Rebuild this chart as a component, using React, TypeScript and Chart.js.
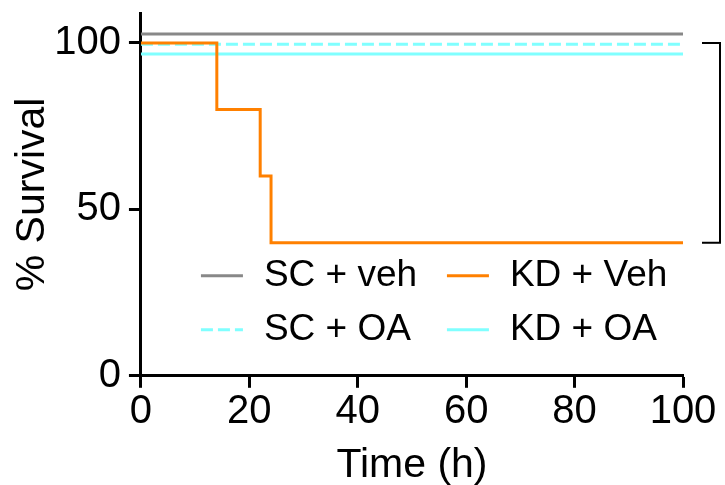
import React, { useEffect, useRef } from "react";
import { Chart, registerables } from "chart.js";

Chart.register(...registerables);

const seriesLabels = ["SC + veh", "KD + Veh", "SC + OA", "KD + OA"];
const scVehX = [0, 100];
const scVehY = [102.7, 102.7];
const kdVehX = [0, 14, 22, 24, 100];
const kdVehY = [100, 80, 60, 40, 40];
const scOaX = [0, 100];
const scOaY = [99.6, 99.6];
const kdOaX = [0, 100];
const kdOaY = [96.7, 96.7];
const xTicks = [0, 20, 40, 60, 80, 100];
const yTicks = [0, 50, 100];

const colors = ["#888888", "#FF8000", "#80FFFF", "#80FFFF"];
const FONT = "'Liberation Sans', Arial, Helvetica, sans-serif";

function pts(xs: number[], ys: number[]) {
  return xs.map((x, i) => ({ x, y: ys[i] }));
}

export default function App() {
  const ref = useRef<HTMLCanvasElement | null>(null);
  useEffect(() => {
    document.body.style.margin = "0";
    const ctx = ref.current!.getContext("2d")!;
    const legendPlugin = {
      id: "customLegend",
      afterDatasetsDraw(chart: any) {
        const { ctx, chartArea } = chart;
        const entries = [
          { i: 0, col: 0, row: 0 },
          { i: 1, col: 1, row: 0 },
          { i: 2, col: 0, row: 1 },
          { i: 3, col: 1, row: 1 },
        ];
        ctx.save();
        entries.forEach((e) => {
          const ds = chart.data.datasets[e.i];
          const x0 = chartArea.left + 60 + e.col * 246;
          const y = chartArea.bottom - 100 + e.row * 54;
          ctx.strokeStyle = ds.borderColor;
          ctx.lineWidth = 3;
          ctx.setLineDash(ds.borderDash || []);
          ctx.beginPath();
          ctx.moveTo(x0, y);
          ctx.lineTo(x0 + 42, y);
          ctx.stroke();
          ctx.setLineDash([]);
          ctx.fillStyle = "#000";
          ctx.font = `37px ${FONT}`;
          ctx.textBaseline = "middle";
          ctx.textAlign = "left";
          ctx.fillText(ds.label, x0 + 63, y);
        });
        // bracket
        const ys = chart.scales.y;
        const yTop = ys.getPixelForValue(100);
        const yBot = ys.getPixelForValue(40);
        const xr = chartArea.right + 37;
        const xl = chartArea.right + 19;
        ctx.strokeStyle = "#000";
        ctx.lineWidth = 2;
        ctx.beginPath();
        ctx.moveTo(xl, yTop);
        ctx.lineTo(xr, yTop);
        ctx.lineTo(xr, yBot);
        ctx.lineTo(xl, yBot);
        ctx.stroke();
        ctx.restore();
      },
    };
    const chart = new Chart(ctx, {
      type: "line",
      data: {
        datasets: [
          { label: seriesLabels[0], data: pts(scVehX, scVehY), borderColor: colors[0], borderWidth: 3, stepped: "before", pointRadius: 0 },
          { label: seriesLabels[1], data: pts(kdVehX, kdVehY), borderColor: colors[1], borderWidth: 3, stepped: "before", pointRadius: 0 },
          { label: seriesLabels[2], data: pts(scOaX, scOaY), borderColor: colors[2], borderWidth: 3, borderDash: [12, 5], stepped: "before", pointRadius: 0 },
          { label: seriesLabels[3], data: pts(kdOaX, kdOaY), borderColor: colors[3], borderWidth: 3, stepped: "before", pointRadius: 0 },
        ] as any,
      },
      options: {
        animation: false,
        responsive: false,
        layout: { padding: { left: 8, right: 42, top: 13, bottom: 0 } },
        plugins: { legend: { display: false }, tooltip: { enabled: false } },
        scales: {
          x: {
            type: "linear",
            min: 0,
            max: 100,
            afterBuildTicks: (s: any) => { s.ticks = xTicks.map((v) => ({ value: v })); },
            ticks: { color: "#000", font: { family: FONT, size: 40 }, padding: 0, maxRotation: 0 },
            grid: { drawOnChartArea: false, drawTicks: true, tickLength: 12, tickWidth: 3, tickColor: "#000" },
            border: { display: true, color: "#000", width: 3 },
            title: { display: true, text: "Time (h)", color: "#000", font: { family: FONT, size: 41 }, padding: { top: 5, bottom: -5 } },
          },
          y: {
            min: 0,
            max: 109,
            afterBuildTicks: (s: any) => { s.ticks = yTicks.map((v) => ({ value: v })); },
            afterFit: (s: any) => { s.paddingTop = 0; s.paddingBottom = 0; },
            ticks: { color: "#000", font: { family: FONT, size: 40 }, padding: 8 },
            grid: { drawOnChartArea: false, drawTicks: true, tickLength: 12, tickWidth: 3, tickColor: "#000" },
            border: { display: true, color: "#000", width: 3 },
            title: { display: true, text: "% Survival", color: "#000", font: { family: FONT, size: 41 }, padding: { top: 0, bottom: -11 } },
          },
        },
      } as any,
      plugins: [legendPlugin],
    });
    return () => chart.destroy();
  }, []);
  return (
    <div style={{ position: "absolute", left: 0, top: 0, width: 725, height: 485 }}>
      <canvas ref={ref} width={725} height={485} style={{ width: 725, height: 485 }} />
    </div>
  );
}
